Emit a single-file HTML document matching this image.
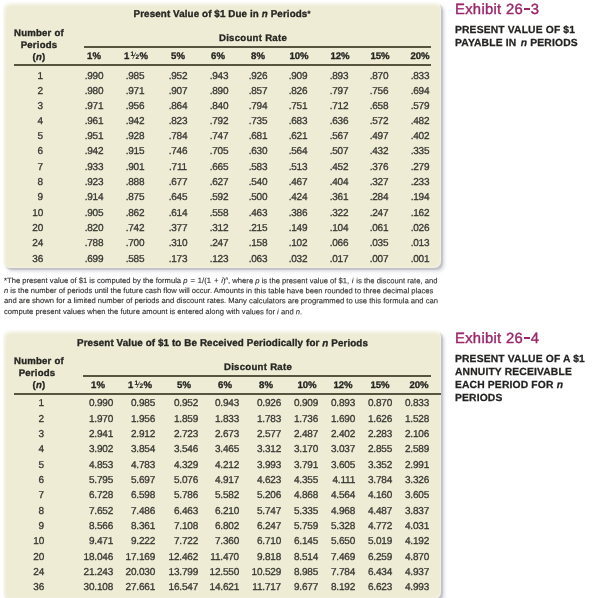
<!DOCTYPE html>
<html><head><meta charset="utf-8"><title>Exhibits 26-3 and 26-4</title>
<style>
html,body{margin:0;padding:0;background:#fff;}
body{width:602px;height:598px;position:relative;overflow:hidden;font-family:"Liberation Sans",sans-serif;color:#262522;}
#w{position:absolute;left:0;top:0;width:602px;height:598px;filter:blur(0.6px);}
.panel{position:absolute;background:#eeecd5;border-radius:7px;box-shadow:inset 1.5px 2.2px 3px rgba(255,255,255,.8),inset -1px -1px 2px rgba(255,255,255,.35),2px 2px 1.5px rgba(160,160,168,.55),3.5px 3.5px 3px rgba(165,165,190,.28);}
.t{position:absolute;white-space:nowrap;line-height:0;height:0;transform-origin:0 0;}
.t span{display:inline-block;line-height:0;}
.l{transform:rotate(0.03deg);}
.c{transform:translateX(-50%) rotate(0.03deg);}
.r{transform:translateX(-100%) rotate(0.03deg);}
.b{font-weight:bold;color:#262522;-webkit-text-stroke:0.32px #262522;}
.d{font-size:10px;color:#383733;-webkit-text-stroke:0.3px #383733;letter-spacing:-.2px;}
.h{font-size:9.6px;font-weight:bold;color:#262522;-webkit-text-stroke:0.32px #262522;}
.rule{position:absolute;background:#57543f;}
.fn{font-size:7.65px;color:#302f2c;-webkit-text-stroke:.12px #302f2c;}
.ex{font-size:14.8px;color:#9c2669;letter-spacing:.3px;-webkit-text-stroke:.4px #9c2669;}
.ex u{display:inline-block;width:5.4px;height:1.7px;background:#9c2669;vertical-align:4.3px;margin:0 1.1px 0 1.3px;text-decoration:none;}
.cap{font-size:10.3px;font-weight:bold;color:#232220;letter-spacing:.16px;-webkit-text-stroke:.25px #232220;}
.cap i{margin:0 0 0 .2px;}
.fr{display:inline-block;margin:0 .3px 0 1.1px;letter-spacing:0;}
.fr b{font-size:6.6px;position:relative;display:inline-block;line-height:0;-webkit-text-stroke:.15px;}
.fr em{font-style:normal;font-weight:normal;font-size:9px;display:inline-block;line-height:0;margin:0 -.4px 0 -.7px;position:relative;top:-.3px;-webkit-text-stroke:0;transform:skewX(-12deg);}
i{font-style:italic;}
</style></head><body><div id="w">
<div class="panel" style="left:2.5px;top:1.5px;width:438.6px;height:266px"></div>
<div class="t c b" style="left:222.30px;top:14px;font-size:9.8px;letter-spacing:.11px">Present Value of $1 Due in <i>n</i> Periods<span style="font-size:7.5px;position:relative;top:-1px">*</span></div>
<div class="t c b" style="left:39.00px;top:33px;font-size:9.6px;letter-spacing:.2px">Number of</div>
<div class="t c b" style="left:39.00px;top:45px;font-size:9.6px;letter-spacing:.2px">Periods</div>
<div class="t c b" style="left:39.00px;top:57px;font-size:9.6px;letter-spacing:.2px">(<i>n</i>)</div>
<div class="t c b" style="left:252.70px;top:38px;font-size:9.6px;letter-spacing:.28px">Discount Rate</div>
<div class="rule" style="left:84.3px;top:46.3px;width:346.5px;height:1.8px"></div>
<div class="rule" style="left:13.5px;top:64.35px;width:417.3px;height:1.7px"></div>
<div class="t c h" style="left:94.40px;top:56px;">1%</div>
<div class="t c h" style="left:136.20px;top:56px;">1<span class="fr"><b style="top:-3.2px">1</b><em>/</em><b style="top:-.3px">2</b></span>%</div>
<div class="t c h" style="left:178.00px;top:56px;">5%</div>
<div class="t c h" style="left:217.90px;top:56px;">6%</div>
<div class="t c h" style="left:258.00px;top:56px;">8%</div>
<div class="t c h" style="left:298.70px;top:56px;">10%</div>
<div class="t c h" style="left:339.50px;top:56px;">12%</div>
<div class="t c h" style="left:379.70px;top:56px;">15%</div>
<div class="t c h" style="left:420.00px;top:56px;">20%</div>
<div class="t r d" style="left:43.30px;top:76px;">1</div>
<div class="t c d" style="left:94.05px;top:76px;">.990</div>
<div class="t c d" style="left:134.60px;top:76px;">.985</div>
<div class="t c d" style="left:178.00px;top:76px;">.952</div>
<div class="t c d" style="left:218.50px;top:76px;">.943</div>
<div class="t c d" style="left:258.40px;top:76px;">.926</div>
<div class="t c d" style="left:298.40px;top:76px;">.909</div>
<div class="t c d" style="left:338.70px;top:76px;">.893</div>
<div class="t c d" style="left:379.00px;top:76px;">.870</div>
<div class="t c d" style="left:419.60px;top:76px;">.833</div>
<div class="t r d" style="left:43.30px;top:91px;">2</div>
<div class="t c d" style="left:94.05px;top:91px;">.980</div>
<div class="t c d" style="left:134.60px;top:91px;">.971</div>
<div class="t c d" style="left:178.00px;top:91px;">.907</div>
<div class="t c d" style="left:218.50px;top:91px;">.890</div>
<div class="t c d" style="left:258.40px;top:91px;">.857</div>
<div class="t c d" style="left:298.40px;top:91px;">.826</div>
<div class="t c d" style="left:338.70px;top:91px;">.797</div>
<div class="t c d" style="left:379.00px;top:91px;">.756</div>
<div class="t c d" style="left:419.60px;top:91px;">.694</div>
<div class="t r d" style="left:43.30px;top:106px;">3</div>
<div class="t c d" style="left:94.05px;top:106px;">.971</div>
<div class="t c d" style="left:134.60px;top:106px;">.956</div>
<div class="t c d" style="left:178.00px;top:106px;">.864</div>
<div class="t c d" style="left:218.50px;top:106px;">.840</div>
<div class="t c d" style="left:258.40px;top:106px;">.794</div>
<div class="t c d" style="left:298.40px;top:106px;">.751</div>
<div class="t c d" style="left:338.70px;top:106px;">.712</div>
<div class="t c d" style="left:379.00px;top:106px;">.658</div>
<div class="t c d" style="left:419.60px;top:106px;">.579</div>
<div class="t r d" style="left:43.30px;top:121px;">4</div>
<div class="t c d" style="left:94.05px;top:121px;">.961</div>
<div class="t c d" style="left:134.60px;top:121px;">.942</div>
<div class="t c d" style="left:178.00px;top:121px;">.823</div>
<div class="t c d" style="left:218.50px;top:121px;">.792</div>
<div class="t c d" style="left:258.40px;top:121px;">.735</div>
<div class="t c d" style="left:298.40px;top:121px;">.683</div>
<div class="t c d" style="left:338.70px;top:121px;">.636</div>
<div class="t c d" style="left:379.00px;top:121px;">.572</div>
<div class="t c d" style="left:419.60px;top:121px;">.482</div>
<div class="t r d" style="left:43.30px;top:136px;">5</div>
<div class="t c d" style="left:94.05px;top:136px;">.951</div>
<div class="t c d" style="left:134.60px;top:136px;">.928</div>
<div class="t c d" style="left:178.00px;top:136px;">.784</div>
<div class="t c d" style="left:218.50px;top:136px;">.747</div>
<div class="t c d" style="left:258.40px;top:136px;">.681</div>
<div class="t c d" style="left:298.40px;top:136px;">.621</div>
<div class="t c d" style="left:338.70px;top:136px;">.567</div>
<div class="t c d" style="left:379.00px;top:136px;">.497</div>
<div class="t c d" style="left:419.60px;top:136px;">.402</div>
<div class="t r d" style="left:43.30px;top:151px;">6</div>
<div class="t c d" style="left:94.05px;top:151px;">.942</div>
<div class="t c d" style="left:134.60px;top:151px;">.915</div>
<div class="t c d" style="left:178.00px;top:151px;">.746</div>
<div class="t c d" style="left:218.50px;top:151px;">.705</div>
<div class="t c d" style="left:258.40px;top:151px;">.630</div>
<div class="t c d" style="left:298.40px;top:151px;">.564</div>
<div class="t c d" style="left:338.70px;top:151px;">.507</div>
<div class="t c d" style="left:379.00px;top:151px;">.432</div>
<div class="t c d" style="left:419.60px;top:151px;">.335</div>
<div class="t r d" style="left:43.30px;top:167px;">7</div>
<div class="t c d" style="left:94.05px;top:167px;">.933</div>
<div class="t c d" style="left:134.60px;top:167px;">.901</div>
<div class="t c d" style="left:178.00px;top:167px;">.711</div>
<div class="t c d" style="left:218.50px;top:167px;">.665</div>
<div class="t c d" style="left:258.40px;top:167px;">.583</div>
<div class="t c d" style="left:298.40px;top:167px;">.513</div>
<div class="t c d" style="left:338.70px;top:167px;">.452</div>
<div class="t c d" style="left:379.00px;top:167px;">.376</div>
<div class="t c d" style="left:419.60px;top:167px;">.279</div>
<div class="t r d" style="left:43.30px;top:182px;">8</div>
<div class="t c d" style="left:94.05px;top:182px;">.923</div>
<div class="t c d" style="left:134.60px;top:182px;">.888</div>
<div class="t c d" style="left:178.00px;top:182px;">.677</div>
<div class="t c d" style="left:218.50px;top:182px;">.627</div>
<div class="t c d" style="left:258.40px;top:182px;">.540</div>
<div class="t c d" style="left:298.40px;top:182px;">.467</div>
<div class="t c d" style="left:338.70px;top:182px;">.404</div>
<div class="t c d" style="left:379.00px;top:182px;">.327</div>
<div class="t c d" style="left:419.60px;top:182px;">.233</div>
<div class="t r d" style="left:43.30px;top:197px;">9</div>
<div class="t c d" style="left:94.05px;top:197px;">.914</div>
<div class="t c d" style="left:134.60px;top:197px;">.875</div>
<div class="t c d" style="left:178.00px;top:197px;">.645</div>
<div class="t c d" style="left:218.50px;top:197px;">.592</div>
<div class="t c d" style="left:258.40px;top:197px;">.500</div>
<div class="t c d" style="left:298.40px;top:197px;">.424</div>
<div class="t c d" style="left:338.70px;top:197px;">.361</div>
<div class="t c d" style="left:379.00px;top:197px;">.284</div>
<div class="t c d" style="left:419.60px;top:197px;">.194</div>
<div class="t r d" style="left:43.30px;top:213px;">10</div>
<div class="t c d" style="left:94.05px;top:213px;">.905</div>
<div class="t c d" style="left:134.60px;top:213px;">.862</div>
<div class="t c d" style="left:178.00px;top:213px;">.614</div>
<div class="t c d" style="left:218.50px;top:213px;">.558</div>
<div class="t c d" style="left:258.40px;top:213px;">.463</div>
<div class="t c d" style="left:298.40px;top:213px;">.386</div>
<div class="t c d" style="left:338.70px;top:213px;">.322</div>
<div class="t c d" style="left:379.00px;top:213px;">.247</div>
<div class="t c d" style="left:419.60px;top:213px;">.162</div>
<div class="t r d" style="left:43.30px;top:228px;">20</div>
<div class="t c d" style="left:94.05px;top:228px;">.820</div>
<div class="t c d" style="left:134.60px;top:228px;">.742</div>
<div class="t c d" style="left:178.00px;top:228px;">.377</div>
<div class="t c d" style="left:218.50px;top:228px;">.312</div>
<div class="t c d" style="left:258.40px;top:228px;">.215</div>
<div class="t c d" style="left:298.40px;top:228px;">.149</div>
<div class="t c d" style="left:338.70px;top:228px;">.104</div>
<div class="t c d" style="left:379.00px;top:228px;">.061</div>
<div class="t c d" style="left:419.60px;top:228px;">.026</div>
<div class="t r d" style="left:43.30px;top:243px;">24</div>
<div class="t c d" style="left:94.05px;top:243px;">.788</div>
<div class="t c d" style="left:134.60px;top:243px;">.700</div>
<div class="t c d" style="left:178.00px;top:243px;">.310</div>
<div class="t c d" style="left:218.50px;top:243px;">.247</div>
<div class="t c d" style="left:258.40px;top:243px;">.158</div>
<div class="t c d" style="left:298.40px;top:243px;">.102</div>
<div class="t c d" style="left:338.70px;top:243px;">.066</div>
<div class="t c d" style="left:379.00px;top:243px;">.035</div>
<div class="t c d" style="left:419.60px;top:243px;">.013</div>
<div class="t r d" style="left:43.30px;top:259px;">36</div>
<div class="t c d" style="left:94.05px;top:259px;">.699</div>
<div class="t c d" style="left:134.60px;top:259px;">.585</div>
<div class="t c d" style="left:178.00px;top:259px;">.173</div>
<div class="t c d" style="left:218.50px;top:259px;">.123</div>
<div class="t c d" style="left:258.40px;top:259px;">.063</div>
<div class="t c d" style="left:298.40px;top:259px;">.032</div>
<div class="t c d" style="left:338.70px;top:259px;">.017</div>
<div class="t c d" style="left:379.00px;top:259px;">.007</div>
<div class="t c d" style="left:419.60px;top:259px;">.001</div>
<div class="t l fn" style="left:3.90px;top:281px;">*The present value of $1 is computed by the formula <span style="word-spacing:.8px"><i>p</i> = 1/(1 + <i>i</i>)</span><span style="font-size:4.6px;position:relative;top:-2.6px"><i>n</i></span>, where <i>p</i> is the present value of $1, <i style="margin:0 .6px">i</i> is the discount rate, and</div>
<div class="t l fn" style="left:3.90px;top:291px;"><i>n</i> is the number of periods until the future cash flow will occur. Amounts in this table have been rounded to three decimal places</div>
<div class="t l fn" style="left:3.90px;top:301px;">and are shown for a limited number of periods and discount rates. Many calculators are programmed to use this formula and can</div>
<div class="t l fn" style="left:3.90px;top:312px;">compute present values when the future amount is entered along with values for <i>i</i> and <i>n</i>.</div>
<div class="panel" style="left:2.5px;top:329.9px;width:438.6px;height:269.3px"></div>
<div class="t l b" style="left:77.20px;top:343px;font-size:9.8px;letter-spacing:.12px">Present Value of $1 to Be Received Periodically for <i>n</i> Periods</div>
<div class="t c b" style="left:39.00px;top:361px;font-size:9.6px;letter-spacing:.2px">Number of</div>
<div class="t c b" style="left:37.40px;top:373px;font-size:9.6px;letter-spacing:.2px">Periods</div>
<div class="t c b" style="left:39.00px;top:385px;font-size:9.6px;letter-spacing:.2px">(<i>n</i>)</div>
<div class="t c b" style="left:258.00px;top:367px;font-size:9.6px;letter-spacing:.28px">Discount Rate</div>
<div class="rule" style="left:83.2px;top:375.3px;width:347.6px;height:1.7px"></div>
<div class="rule" style="left:13.8px;top:392.9px;width:426.9px;height:1.7px"></div>
<div class="t c h" style="left:98.00px;top:385px;">1%</div>
<div class="t c h" style="left:140.00px;top:385px;">1<span class="fr"><b style="top:-3.2px">1</b><em>/</em><b style="top:-.3px">2</b></span>%</div>
<div class="t c h" style="left:183.50px;top:385px;">5%</div>
<div class="t c h" style="left:224.70px;top:385px;">6%</div>
<div class="t c h" style="left:265.80px;top:385px;">8%</div>
<div class="t c h" style="left:306.90px;top:385px;">10%</div>
<div class="t c h" style="left:343.30px;top:385px;">12%</div>
<div class="t c h" style="left:379.60px;top:385px;">15%</div>
<div class="t c h" style="left:418.60px;top:385px;">20%</div>
<div class="t r d" style="left:44.30px;top:403px;">1</div>
<div class="t r d" style="left:113.00px;top:403px;">0.990</div>
<div class="t r d" style="left:155.20px;top:403px;">0.985</div>
<div class="t r d" style="left:197.60px;top:403px;">0.952</div>
<div class="t r d" style="left:239.10px;top:403px;">0.943</div>
<div class="t r d" style="left:281.40px;top:403px;">0.926</div>
<div class="t r d" style="left:318.40px;top:403px;">0.909</div>
<div class="t r d" style="left:354.90px;top:403px;">0.893</div>
<div class="t r d" style="left:392.30px;top:403px;">0.870</div>
<div class="t r d" style="left:428.80px;top:403px;">0.833</div>
<div class="t r d" style="left:44.30px;top:419px;">2</div>
<div class="t r d" style="left:113.00px;top:419px;">1.970</div>
<div class="t r d" style="left:155.20px;top:419px;">1.956</div>
<div class="t r d" style="left:197.60px;top:419px;">1.859</div>
<div class="t r d" style="left:239.10px;top:419px;">1.833</div>
<div class="t r d" style="left:281.40px;top:419px;">1.783</div>
<div class="t r d" style="left:318.40px;top:419px;">1.736</div>
<div class="t r d" style="left:354.90px;top:419px;">1.690</div>
<div class="t r d" style="left:392.30px;top:419px;">1.626</div>
<div class="t r d" style="left:428.80px;top:419px;">1.528</div>
<div class="t r d" style="left:44.30px;top:434px;">3</div>
<div class="t r d" style="left:113.00px;top:434px;">2.941</div>
<div class="t r d" style="left:155.20px;top:434px;">2.912</div>
<div class="t r d" style="left:197.60px;top:434px;">2.723</div>
<div class="t r d" style="left:239.10px;top:434px;">2.673</div>
<div class="t r d" style="left:281.40px;top:434px;">2.577</div>
<div class="t r d" style="left:318.40px;top:434px;">2.487</div>
<div class="t r d" style="left:354.90px;top:434px;">2.402</div>
<div class="t r d" style="left:392.30px;top:434px;">2.283</div>
<div class="t r d" style="left:428.80px;top:434px;">2.106</div>
<div class="t r d" style="left:44.30px;top:449px;">4</div>
<div class="t r d" style="left:113.00px;top:449px;">3.902</div>
<div class="t r d" style="left:155.20px;top:449px;">3.854</div>
<div class="t r d" style="left:197.60px;top:449px;">3.546</div>
<div class="t r d" style="left:239.10px;top:449px;">3.465</div>
<div class="t r d" style="left:281.40px;top:449px;">3.312</div>
<div class="t r d" style="left:318.40px;top:449px;">3.170</div>
<div class="t r d" style="left:354.90px;top:449px;">3.037</div>
<div class="t r d" style="left:392.30px;top:449px;">2.855</div>
<div class="t r d" style="left:428.80px;top:449px;">2.589</div>
<div class="t r d" style="left:44.30px;top:465px;">5</div>
<div class="t r d" style="left:113.00px;top:465px;">4.853</div>
<div class="t r d" style="left:155.20px;top:465px;">4.783</div>
<div class="t r d" style="left:197.60px;top:465px;">4.329</div>
<div class="t r d" style="left:239.10px;top:465px;">4.212</div>
<div class="t r d" style="left:281.40px;top:465px;">3.993</div>
<div class="t r d" style="left:318.40px;top:465px;">3.791</div>
<div class="t r d" style="left:354.90px;top:465px;">3.605</div>
<div class="t r d" style="left:392.30px;top:465px;">3.352</div>
<div class="t r d" style="left:428.80px;top:465px;">2.991</div>
<div class="t r d" style="left:44.30px;top:480px;">6</div>
<div class="t r d" style="left:113.00px;top:480px;">5.795</div>
<div class="t r d" style="left:155.20px;top:480px;">5.697</div>
<div class="t r d" style="left:197.60px;top:480px;">5.076</div>
<div class="t r d" style="left:239.10px;top:480px;">4.917</div>
<div class="t r d" style="left:281.40px;top:480px;">4.623</div>
<div class="t r d" style="left:318.40px;top:480px;">4.355</div>
<div class="t r d" style="left:354.90px;top:480px;">4.111</div>
<div class="t r d" style="left:392.30px;top:480px;">3.784</div>
<div class="t r d" style="left:428.80px;top:480px;">3.326</div>
<div class="t r d" style="left:44.30px;top:495px;">7</div>
<div class="t r d" style="left:113.00px;top:495px;">6.728</div>
<div class="t r d" style="left:155.20px;top:495px;">6.598</div>
<div class="t r d" style="left:197.60px;top:495px;">5.786</div>
<div class="t r d" style="left:239.10px;top:495px;">5.582</div>
<div class="t r d" style="left:281.40px;top:495px;">5.206</div>
<div class="t r d" style="left:318.40px;top:495px;">4.868</div>
<div class="t r d" style="left:354.90px;top:495px;">4.564</div>
<div class="t r d" style="left:392.30px;top:495px;">4.160</div>
<div class="t r d" style="left:428.80px;top:495px;">3.605</div>
<div class="t r d" style="left:44.30px;top:511px;">8</div>
<div class="t r d" style="left:113.00px;top:511px;">7.652</div>
<div class="t r d" style="left:155.20px;top:511px;">7.486</div>
<div class="t r d" style="left:197.60px;top:511px;">6.463</div>
<div class="t r d" style="left:239.10px;top:511px;">6.210</div>
<div class="t r d" style="left:281.40px;top:511px;">5.747</div>
<div class="t r d" style="left:318.40px;top:511px;">5.335</div>
<div class="t r d" style="left:354.90px;top:511px;">4.968</div>
<div class="t r d" style="left:392.30px;top:511px;">4.487</div>
<div class="t r d" style="left:428.80px;top:511px;">3.837</div>
<div class="t r d" style="left:44.30px;top:526px;">9</div>
<div class="t r d" style="left:113.00px;top:526px;">8.566</div>
<div class="t r d" style="left:155.20px;top:526px;">8.361</div>
<div class="t r d" style="left:197.60px;top:526px;">7.108</div>
<div class="t r d" style="left:239.10px;top:526px;">6.802</div>
<div class="t r d" style="left:281.40px;top:526px;">6.247</div>
<div class="t r d" style="left:318.40px;top:526px;">5.759</div>
<div class="t r d" style="left:354.90px;top:526px;">5.328</div>
<div class="t r d" style="left:392.30px;top:526px;">4.772</div>
<div class="t r d" style="left:428.80px;top:526px;">4.031</div>
<div class="t r d" style="left:44.30px;top:541px;">10</div>
<div class="t r d" style="left:113.00px;top:541px;">9.471</div>
<div class="t r d" style="left:155.20px;top:541px;">9.222</div>
<div class="t r d" style="left:197.60px;top:541px;">7.722</div>
<div class="t r d" style="left:239.10px;top:541px;">7.360</div>
<div class="t r d" style="left:281.40px;top:541px;">6.710</div>
<div class="t r d" style="left:318.40px;top:541px;">6.145</div>
<div class="t r d" style="left:354.90px;top:541px;">5.650</div>
<div class="t r d" style="left:392.30px;top:541px;">5.019</div>
<div class="t r d" style="left:428.80px;top:541px;">4.192</div>
<div class="t r d" style="left:44.30px;top:557px;">20</div>
<div class="t r d" style="left:113.00px;top:557px;">18.046</div>
<div class="t r d" style="left:155.20px;top:557px;">17.169</div>
<div class="t r d" style="left:197.60px;top:557px;">12.462</div>
<div class="t r d" style="left:239.10px;top:557px;">11.470</div>
<div class="t r d" style="left:281.40px;top:557px;">9.818</div>
<div class="t r d" style="left:318.40px;top:557px;">8.514</div>
<div class="t r d" style="left:354.90px;top:557px;">7.469</div>
<div class="t r d" style="left:392.30px;top:557px;">6.259</div>
<div class="t r d" style="left:428.80px;top:557px;">4.870</div>
<div class="t r d" style="left:44.30px;top:572px;">24</div>
<div class="t r d" style="left:113.00px;top:572px;">21.243</div>
<div class="t r d" style="left:155.20px;top:572px;">20.030</div>
<div class="t r d" style="left:197.60px;top:572px;">13.799</div>
<div class="t r d" style="left:239.10px;top:572px;">12.550</div>
<div class="t r d" style="left:281.40px;top:572px;">10.529</div>
<div class="t r d" style="left:318.40px;top:572px;">8.985</div>
<div class="t r d" style="left:354.90px;top:572px;">7.784</div>
<div class="t r d" style="left:392.30px;top:572px;">6.434</div>
<div class="t r d" style="left:428.80px;top:572px;">4.937</div>
<div class="t r d" style="left:44.30px;top:587px;">36</div>
<div class="t r d" style="left:113.00px;top:587px;">30.108</div>
<div class="t r d" style="left:155.20px;top:587px;">27.661</div>
<div class="t r d" style="left:197.60px;top:587px;">16.547</div>
<div class="t r d" style="left:239.10px;top:587px;">14.621</div>
<div class="t r d" style="left:281.40px;top:587px;">11.717</div>
<div class="t r d" style="left:318.40px;top:587px;">9.677</div>
<div class="t r d" style="left:354.90px;top:587px;">8.192</div>
<div class="t r d" style="left:392.30px;top:587px;">6.623</div>
<div class="t r d" style="left:428.80px;top:587px;">4.993</div>
<div class="t l ex" style="left:455.10px;top:8px;">Exhibit 26<u></u>3</div>
<div class="t l cap" style="left:455.00px;top:30px;">PRESENT VALUE OF $1</div>
<div class="t l cap" style="left:455.00px;top:43px;">PAYABLE IN <i style="margin:0 0 0 1.5px">n</i> PERIODS</div>
<div class="t l ex" style="left:455.10px;top:337px;">Exhibit 26<u></u>4</div>
<div class="t l cap" style="left:455.00px;top:359px;">PRESENT VALUE OF A $1</div>
<div class="t l cap" style="left:455.00px;top:372px;">ANNUITY RECEIVABLE</div>
<div class="t l cap" style="left:455.00px;top:385px;">EACH PERIOD FOR <i>n</i></div>
<div class="t l cap" style="left:455.00px;top:398px;">PERIODS</div>
</div></body></html>
